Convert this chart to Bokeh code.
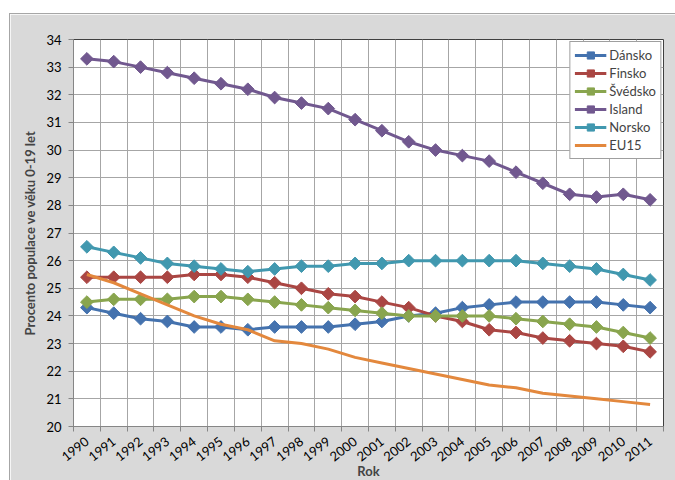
import math
from bokeh.plotting import figure
from bokeh.layouts import column, row
from bokeh.models import FixedTicker, Legend, LegendItem, Spacer
from bokeh.embed import file_html
from bokeh.resources import INLINE

years = list(range(1990, 2012))
dansko = [24.3, 24.1, 23.9, 23.8, 23.6, 23.6, 23.5, 23.6, 23.6, 23.6, 23.7, 23.8, 24.0, 24.1, 24.3, 24.4, 24.5, 24.5, 24.5, 24.5, 24.4, 24.3]
finsko = [25.4, 25.4, 25.4, 25.4, 25.5, 25.5, 25.4, 25.2, 25.0, 24.8, 24.7, 24.5, 24.3, 24.0, 23.8, 23.5, 23.4, 23.2, 23.1, 23.0, 22.9, 22.7]
svedsko = [24.5, 24.6, 24.6, 24.6, 24.7, 24.7, 24.6, 24.5, 24.4, 24.3, 24.2, 24.1, 24.0, 24.0, 24.0, 24.0, 23.9, 23.8, 23.7, 23.6, 23.4, 23.2]
island = [33.3, 33.2, 33.0, 32.8, 32.6, 32.4, 32.2, 31.9, 31.7, 31.5, 31.1, 30.7, 30.3, 30.0, 29.8, 29.6, 29.2, 28.8, 28.4, 28.3, 28.4, 28.2]
norsko = [26.5, 26.3, 26.1, 25.9, 25.8, 25.7, 25.6, 25.7, 25.8, 25.8, 25.9, 25.9, 26.0, 26.0, 26.0, 26.0, 26.0, 25.9, 25.8, 25.7, 25.5, 25.3]
eu15 = [25.5, 25.2, 24.8, 24.4, 24.0, 23.7, 23.5, 23.1, 23.0, 22.8, 22.5, 22.3, 22.1, 21.9, 21.7, 21.5, 21.4, 21.2, 21.1, 21.0, 20.9, 20.8]

series = [
    ("Dánsko", dansko, "#4472AE", True),
    ("Finsko", finsko, "#AA4643", True),
    ("Švédsko", svedsko, "#89A54E", True),
    ("Island", island, "#71588F", True),
    ("Norsko", norsko, "#4198AF", True),
    ("EU15", eu15, "#E3883D", False),
]

y_ticks = list(range(20, 35))
FONT = "Lato"

p = figure(width=666, height=467, output_backend="svg", toolbar_location=None,
           x_range=(1989.5, 2011.5), y_range=(20, 34),
           min_border_left=63, min_border_right=13, min_border_top=25, min_border_bottom=55)
p.background_fill_color = "white"
p.border_fill_color = "#D9D9D9"
p.outline_line_color = "#404040"
p.outline_line_width = 1
p.styles = {"border-top": "1px solid #A6A6A6", "border-left": "1px solid #A6A6A6"}

boundaries = [y - 0.5 for y in years] + [years[-1] + 0.5]

p.xaxis.ticker = FixedTicker(ticks=years, minor_ticks=boundaries)
p.xaxis.major_tick_line_color = None
p.xaxis.minor_tick_line_color = "#868686"
p.xaxis.minor_tick_out = 5
p.xaxis.minor_tick_in = 0
p.xaxis.major_label_orientation = 0.66
p.xaxis.major_label_text_font = FONT
p.xaxis.major_label_text_font_size = "13px"
p.xaxis.major_label_text_color = "#000000"
p.xaxis.major_label_standoff = 7
p.xaxis.axis_line_color = "#868686"
p.xaxis.axis_label = "Rok"
p.xaxis.axis_label_text_font = FONT
p.xaxis.axis_label_text_font_style = "bold"
p.xaxis.axis_label_text_font_size = "13px"
p.xaxis.axis_label_standoff = -6

p.yaxis.ticker = FixedTicker(ticks=y_ticks)
p.yaxis.minor_tick_line_color = None
p.yaxis.major_tick_line_color = "#868686"
p.yaxis.major_tick_out = 5
p.yaxis.major_tick_in = 0
p.yaxis.major_label_text_font = FONT
p.yaxis.major_label_text_font_size = "13px"
p.yaxis.major_label_text_color = "#000000"
p.yaxis.major_label_standoff = 7
p.yaxis.axis_line_color = "#868686"
p.yaxis.axis_label = "Procento populace ve věku 0-19 let"
p.yaxis.axis_label_text_font = FONT
p.yaxis.axis_label_text_font_style = "bold"
p.yaxis.axis_label_text_font_size = "13px"
p.yaxis.axis_label_standoff = 5

p.xgrid.ticker = FixedTicker(ticks=boundaries)
p.xgrid.grid_line_color = "#A6A6A6"
p.ygrid.grid_line_color = "#A6A6A6"

items = []
for name, vals, color, markers in series:
    rs = [p.line(years, vals, line_color=color, line_width=3)]
    if markers:
        rs.append(p.scatter(years, vals, marker="square", angle=math.pi / 4, size=9,
                            fill_color=color, line_color=color))
    items.append(LegendItem(label=name, renderers=rs))

legend = Legend(items=items, location="top_right")
legend.margin = 2
legend.padding = 4
legend.spacing = 0
legend.glyph_width = 32
legend.glyph_height = 18
legend.label_height = 18
legend.label_standoff = 3
legend.label_text_font = FONT
legend.label_text_font_size = "13px"
legend.border_line_color = "#404040"
legend.border_line_width = 1
legend.background_fill_color = "white"
legend.background_fill_alpha = 1.0
p.add_layout(legend)

layout = column(Spacer(height=13, width=675), row(Spacer(width=9, height=467), p))
open("out.html", "w").write(file_html(layout, INLINE))
